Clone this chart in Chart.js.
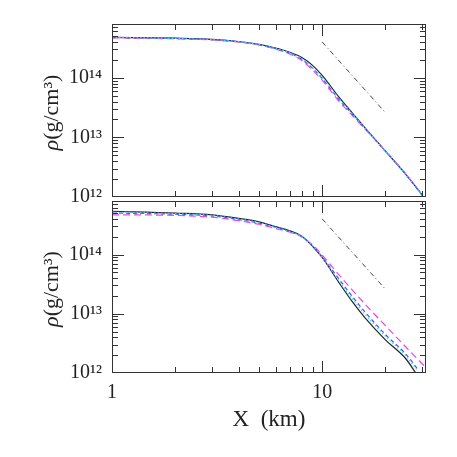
<!DOCTYPE html>
<html><head><meta charset="utf-8">
<script src="https://cdn.jsdelivr.net/npm/chart.js@4.4.1/dist/chart.umd.min.js"></script>
<style>
html,body{margin:0;padding:0;background:#fff;}
#wrap{position:relative;width:457px;height:457px;background:#fff;}
canvas{position:absolute;left:0;top:0;}
</style></head><body>
<div id="wrap">
<canvas id="c1" width="457" height="457"></canvas>
<canvas id="c2" width="457" height="457"></canvas>
</div>
<script>
// ---------- data ----------
const xTickValues = [1, 10];
const xTickLabels = ['1', '10'];
const yTickValues = [1e12, 1e13, 1e14];
const yTickLabels = ['10\u00B9\u00B2', '10\u00B9\u00B3', '10\u00B9\u2074'];
const xTitle = 'X  (km)';
const yTitleSymbol = '\u03C1';
const yTitleUnit = '(g/cm\u00B3)';

// reference power-law line (dash-dot)
const refX = [10, 20];
const refY = [4.0e14, 2.6e13];

// top panel
const topX = [1, 2, 3, 4, 5, 6, 7, 8, 9, 10, 12, 14, 16, 20, 25, 30];
const topBlack   = [4.79e14, 4.62e14, 4.42e14, 4.07e14, 3.63e14, 3.16e14, 2.69e14, 2.19e14, 1.62e14, 1.10e14, 4.79e13, 2.51e13, 1.45e13, 5.89e12, 2.40e12, 1.07e12];
const topBlue    = [4.73e14, 4.57e14, 4.37e14, 4.03e14, 3.59e14, 3.09e14, 2.60e14, 2.04e14, 1.45e14, 9.77e13, 4.37e13, 2.40e13, 1.41e13, 5.89e12, 2.40e12, 1.05e12];
const topCyan    = [4.79e14, 4.57e14, 4.37e14, 4.05e14, 3.61e14, 3.11e14, 2.63e14, 2.09e14, 1.50e14, 1.01e14, 4.52e13, 2.45e13, 1.43e13, 5.89e12, 2.40e12, 1.06e12];
const topMagenta = [4.68e14, 4.52e14, 4.32e14, 3.98e14, 3.55e14, 3.02e14, 2.51e14, 1.95e14, 1.35e14, 9.12e13, 4.07e13, 2.29e13, 1.38e13, 5.89e12, 2.45e12, 1.07e12];

// bottom panel
const botXBlack   = [1, 2, 3, 4, 5, 6, 7, 8, 9, 10, 12, 14, 16, 20, 25, 27.9];
const botXBlue    = [1, 2, 3, 4, 5, 6, 7, 8, 9, 10, 12, 14, 16, 20, 25, 28.8];
const botXCyan    = [1, 2, 3, 4, 5, 6, 7, 8, 9, 10, 12, 14, 16, 20, 25, 28.5];
const botXMagenta = [1, 2, 3, 4, 5, 6, 7, 8, 9, 10, 12, 14, 16, 20, 25, 30.6];
const botBlack   = [5.37e14, 5.01e14, 4.68e14, 4.07e14, 3.55e14, 2.95e14, 2.51e14, 2.04e14, 1.38e14, 8.91e13, 3.39e13, 1.55e13, 8.51e12, 3.63e12, 1.74e12, 1.00e12];
const botBlue    = [5.01e14, 4.79e14, 4.47e14, 3.89e14, 3.39e14, 2.88e14, 2.45e14, 2.00e14, 1.41e14, 9.12e13, 3.89e13, 1.91e13, 1.07e13, 4.47e12, 2.09e12, 1.10e12];
const botCyan    = [5.13e14, 4.90e14, 4.57e14, 3.98e14, 3.47e14, 2.88e14, 2.45e14, 2.00e14, 1.41e14, 8.91e13, 3.63e13, 1.74e13, 9.77e12, 4.17e12, 1.95e12, 1.07e12];
const botMagenta = [4.68e14, 4.57e14, 4.27e14, 3.72e14, 3.24e14, 2.75e14, 2.40e14, 2.00e14, 1.45e14, 9.77e13, 4.57e13, 2.45e13, 1.45e13, 6.31e12, 2.75e12, 1.32e12];

const xMin = 1, xMax = 31.2, yMin = 1e12, yMax = 8e14;

// ---------- helpers ----------
const FONT = "'Liberation Serif','DejaVu Serif',serif";
const pts = (xs, ys) => xs.map((v, i) => ({x: v, y: ys[i]}));
function niceMantissa(v) {
  const e = Math.floor(Math.log10(v) + 1e-9);
  const m = v / Math.pow(10, e);
  return Math.abs(m - Math.round(m)) < 1e-6 ? Math.round(m) : 0;
}
function lookup(v, vals, labels) {
  for (let i = 0; i < vals.length; i++) if (Math.abs(v - vals[i]) / vals[i] < 1e-6) return labels[i];
  return '';
}

function series(xs, ys, color, dash, width) {
  return {
    data: pts(xs, ys), borderColor: color, borderDash: dash, borderWidth: width || 1.2,
    pointRadius: 0, fill: false, cubicInterpolationMode: 'monotone'
  };
}
function datasets(which) {
  const d = which === 'top'
    ? [series(topX, topCyan, '#3fd6f2', [1.5, 2]),
       series(topX, topBlue, '#3a58ff', [4, 3]),
       series(topX, topMagenta, '#f23ff2', [7, 4]),
       series(topX, topBlack, '#222222', [])]
    : [series(botXCyan, botCyan, '#3fd6f2', [1.5, 2]),
       series(botXBlue, botBlue, '#3a58ff', [4, 3]),
       series(botXMagenta, botMagenta, '#f23ff2', [7, 4]),
       series(botXBlack, botBlack, '#222222', [])];
  d.push({data: pts(refX, refY), borderColor: '#444', borderDash: [5, 3, 1, 3], borderWidth: 1, pointRadius: 0, fill: false});
  return d;
}

const boxPlugin = {
  id: 'box',
  afterDatasetsDraw(chart, args, opts) {
    const {ctx, chartArea: a, scales: {x, y}} = chart;
    ctx.save();
    ctx.strokeStyle = '#333';
    ctx.lineWidth = 1;
    ctx.beginPath();
    x.ticks.forEach(t => {
      const m = niceMantissa(t.value); if (!m) return;
      const px = Math.round(x.getPixelForValue(t.value)) + 0.5;
      if (px <= a.left + 1 || px >= a.right - 1) return;
      const L = m === 1 ? 12 : 6;
      ctx.moveTo(px, a.bottom); ctx.lineTo(px, a.bottom - L);
      ctx.moveTo(px, a.top); ctx.lineTo(px, a.top + L);
    });
    y.ticks.forEach(t => {
      const m = niceMantissa(t.value); if (!m) return;
      const py = Math.round(y.getPixelForValue(t.value)) + 0.5;
      if (py <= a.top + 1 || py >= a.bottom - 1) return;
      const L = m === 1 ? 12 : 6;
      ctx.moveTo(a.left, py); ctx.lineTo(a.left + L, py);
      ctx.moveTo(a.right, py); ctx.lineTo(a.right - L, py);
    });
    ctx.stroke();
    ctx.strokeRect(a.left + 0.5, a.top + 0.5, a.right - a.left - 1, a.bottom - a.top - 1);

    // y-axis title (italic rho + unit)
    ctx.fillStyle = '#222';
    ctx.textBaseline = 'alphabetic';
    ctx.translate(58, (a.top + a.bottom) / 2 + 2);
    ctx.rotate(-Math.PI / 2);
    const f1 = 'italic 22px ' + FONT, f2 = '22px ' + FONT;
    ctx.font = f1; const w1 = ctx.measureText(yTitleSymbol).width;
    ctx.font = f2; const w2 = ctx.measureText(yTitleUnit).width;
    const sx = -(w1 + w2) / 2;
    ctx.font = f1; ctx.fillText(yTitleSymbol, sx, 0);
    ctx.font = f2; ctx.fillText(yTitleUnit, sx + w1, 0);
    ctx.restore();

    if (opts.xTitle) {
      ctx.save();
      ctx.fillStyle = '#222';
      ctx.font = '23px ' + FONT;
      ctx.textAlign = 'center';
      ctx.textBaseline = 'alphabetic';
      ctx.fillText(xTitle, (a.left + a.right) / 2, 426);
      ctx.restore();
    }
  }
};

function makeChart(id, which, padTop, padBottom, xHeight, showX) {
  return new Chart(document.getElementById(id), {
    type: 'line',
    data: {datasets: datasets(which)},
    plugins: [boxPlugin],
    options: {
      responsive: false, animation: false, events: [],
      layout: {padding: {top: padTop, bottom: padBottom, left: 0, right: 31}},
      plugins: {legend: {display: false}, tooltip: {enabled: false}, box: {xTitle: showX}},
      scales: {
        x: {
          type: 'logarithmic', min: xMin, max: xMax,
          grid: {display: false, drawTicks: false}, border: {display: false},
          ticks: {
            display: showX, autoSkip: false, maxRotation: 0, padding: 8,
            color: '#222', font: {family: FONT, size: 20},
            callback: (v) => lookup(v, xTickValues, xTickLabels)
          },
          afterFit: (s) => { s.height = xHeight; }
        },
        y: {
          type: 'logarithmic', min: yMin, max: yMax,
          grid: {display: false, drawTicks: false}, border: {display: false},
          ticks: {
            autoSkip: false, padding: 10,
            color: '#222', font: {family: FONT, size: 20},
            callback: (v) => lookup(v, yTickValues, yTickLabels)
          },
          afterFit: (s) => { s.width = 112; }
        }
      }
    }
  });
}

makeChart('c1', 'top', 24, 260, 0, false);
makeChart('c2', 'bottom', 201, 0, 84, true);
</script>
</body></html>
